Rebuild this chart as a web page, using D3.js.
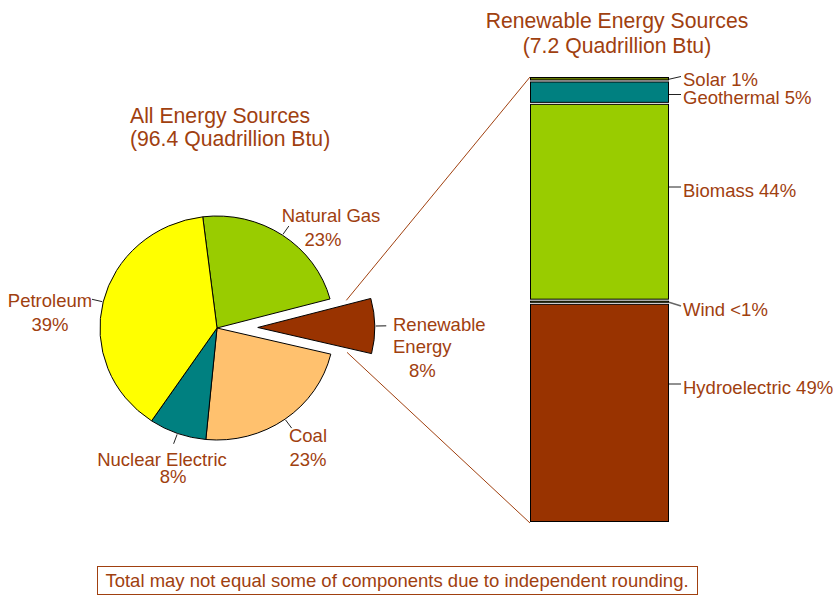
<!DOCTYPE html>
<html>
<head>
<meta charset="utf-8">
<script src="https://cdn.jsdelivr.net/npm/d3@7"></script>
<style>
  body { margin: 0; background: #fff; }
  svg { display: block; }
  text { font-family: "Liberation Sans", Arial, sans-serif; fill: #a0400f; }
</style>
</head>
<body>
<svg id="chart" width="833" height="596"></svg>
<script>
// U.S. energy consumption by source (percent of total)
const sources = ["Natural Gas", "Renewable Energy", "Coal", "Nuclear Electric", "Petroleum"];
const sourceShares = [23, 8, 23, 8, 39];
const sourceColors = ["#99cc00", "#993300", "#ffc16e", "#008080", "#ffff00"];
const sourceLabelLines = [["Natural Gas", "23%"], ["Renewable", "Energy", "8%"], ["Coal", "23%"], ["Nuclear Electric", "8%"], ["Petroleum", "39%"]];

// Renewable energy breakdown, stacked from the bottom up (percent of renewables)
const renewables = ["Hydroelectric", "Wind", "Biomass", "Geothermal", "Solar"];
const renewableShares = [49, 0.7, 44, 5, 1];
const renewableLabels = ["Hydroelectric 49%", "Wind <1%", "Biomass 44%", "Geothermal 5%", "Solar 1%"];
const renewableColors = ["#993300", "#c4e400", "#99cc00", "#008080", "#667a00"];

const titles = {
  all: ["All Energy Sources", "(96.4 Quadrillion Btu)"],
  renewable: ["Renewable Energy Sources", "(7.2 Quadrillion Btu)"],
  note: "Total may not equal some of components due to independent rounding."
};

// ---- layout ----
const svg = d3.select("#chart");
const textColor = "#a0400f";
const labelSize = 18.5, titleSize = 21.2;
const cx = 217, cy = 328, r = 112, stretchX = 1.045;
const explode = 39;
const explodedIndex = 1;

// label placement for the pie (text-anchor, x, baselines per line)
const pieLabelLayout = [
  { anchor: "middle", pos: [[331, 222], [323, 246]] },
  { anchor: "start",  pos: [[393, 331], [393, 353], [409, 377]] },
  { anchor: "middle", pos: [[308, 442], [308, 466]] },
  { anchor: "middle", pos: [[162, 466], [173, 483]] },
  { anchor: "middle", pos: [[50, 307], [50, 331]] }
];

// ---- pie ----
const startDeg = -7;
const pie = d3.pie().sort(null).value(d => d)
  .startAngle(startDeg * Math.PI / 180)
  .endAngle(startDeg * Math.PI / 180 + 2 * Math.PI);
const arcs = pie(sourceShares);
const arc = d3.arc().innerRadius(0).outerRadius(r);

const pieG = svg.append("g").attr("transform", `translate(${cx},${cy}) scale(${stretchX},1)`);

function offsetFor(d, i) {
  if (i !== explodedIndex) return [0, 0];
  const m = (d.startAngle + d.endAngle) / 2;
  return [explode * Math.sin(m), -explode * Math.cos(m)];
}

pieG.selectAll("path.slice")
  .data(arcs)
  .join("path")
  .attr("class", "slice")
  .attr("d", arc)
  .attr("transform", (d, i) => `translate(${offsetFor(d, i)})`)
  .attr("fill", (d, i) => sourceColors[i])
  .attr("stroke", "#000")
  .attr("stroke-width", 1)
  .attr("vector-effect", "non-scaling-stroke");

// screen position of a point at angle a and radius rr, relative to a slice's offset
function pt(a, rr, off) {
  return [cx + stretchX * (off[0] + rr * Math.sin(a)), cy + off[1] - rr * Math.cos(a)];
}

// leader lines from each slice
arcs.forEach((d, i) => {
  const m = (d.startAngle + d.endAngle) / 2;
  const off = offsetFor(d, i);
  const p0 = pt(m, r + 1, off), p1 = pt(m, r + 11, off);
  svg.append("line")
    .attr("x1", p0[0]).attr("y1", p0[1]).attr("x2", p1[0]).attr("y2", p1[1])
    .attr("stroke", i === explodedIndex ? "#666" : "#222")
    .attr("stroke-width", i === explodedIndex ? 1.5 : 1);
});

// slice labels
sourceLabelLines.forEach((lines, i) => {
  const lay = pieLabelLayout[i];
  lines.forEach((t, k) => {
    svg.append("text")
      .attr("x", lay.pos[k][0]).attr("y", lay.pos[k][1])
      .attr("text-anchor", lay.anchor)
      .attr("font-size", labelSize)
      .text(t);
  });
});

// left title
titles.all.forEach((t, k) => {
  svg.append("text").attr("x", 130).attr("y", 123 + k * 23)
    .attr("font-size", titleSize).text(t);
});

// ---- stacked bar of renewables ----
const total = d3.sum(renewableShares);
const x = d3.scaleBand().domain(["Renewable"]).range([530, 669]).padding(0);
const y = d3.scaleLinear().domain([0, total]).range([523, 77]);
const stack = d3.stack().keys(renewables)([Object.fromEntries(renewables.map((k, i) => [k, renewableShares[i]]))]);
const segs = stack.map((s, i) => ({ key: s.key, y0: s[0][0], y1: s[0][1], i }));

svg.append("g").selectAll("rect")
  .data(segs)
  .join("rect")
  .attr("x", x("Renewable") + 0.5)
  .attr("width", x.bandwidth() - 1)
  .attr("y", d => y(d.y1) + 0.5)
  .attr("height", d => Math.max(1, y(d.y0) - y(d.y1) - 2))
  .attr("fill", d => renewableColors[d.i])
  .attr("stroke", "#000")
  .attr("stroke-width", 1);

// bar labels (text-centre heights)
const barLabelY = [387, 309, 190, 97.5, 79.5];
const barRight = x("Renewable") + x.bandwidth();
segs.forEach(d => {
  const top = y(d.y1), bot = y(d.y0);
  const ly = barLabelY[d.i];
  const lineEnd = ly - 3;
  const startY = (lineEnd > top && lineEnd < bot) ? lineEnd : (top + bot) / 2;
  svg.append("line")
    .attr("x1", barRight).attr("y1", startY)
    .attr("x2", barRight + 12).attr("y2", lineEnd)
    .attr("stroke", d.key === "Wind" ? "#666" : "#222")
    .attr("stroke-width", d.key === "Wind" ? 1.5 : 1);
  svg.append("text").attr("x", barRight + 14).attr("y", ly + 6.5)
    .attr("font-size", labelSize).text(renewableLabels[d.i]);
});

// right title
titles.renewable.forEach((t, k) => {
  svg.append("text").attr("x", 617).attr("y", 28 + k * 25)
    .attr("text-anchor", "middle").attr("font-size", titleSize).text(t);
});

// connector lines from the exploded wedge to the bar
(function () {
  const d = arcs[explodedIndex];
  const off = offsetFor(d, explodedIndex);
  const m = (d.startAngle + d.endAngle) / 2;
  const spread = 17 * Math.PI / 180;
  const a = pt(m - spread, 93 / stretchX, off);
  const b = pt(m + spread, 93 / stretchX, off);
  svg.append("line").attr("x1", a[0]).attr("y1", a[1])
    .attr("x2", x("Renewable")).attr("y2", y(total))
    .attr("stroke", textColor).attr("stroke-width", 1);
  svg.append("line").attr("x1", b[0]).attr("y1", b[1])
    .attr("x2", x("Renewable")).attr("y2", y(0))
    .attr("stroke", textColor).attr("stroke-width", 1);
})();

// footnote in a framed box
svg.append("rect")
  .attr("x", 97.5).attr("y", 566.5)
  .attr("width", 600).attr("height", 28)
  .attr("fill", "none").attr("stroke", textColor).attr("stroke-width", 1);
svg.append("text").attr("x", 397).attr("y", 587)
  .attr("text-anchor", "middle").attr("font-size", labelSize).text(titles.note);
</script>
</body>
</html>
